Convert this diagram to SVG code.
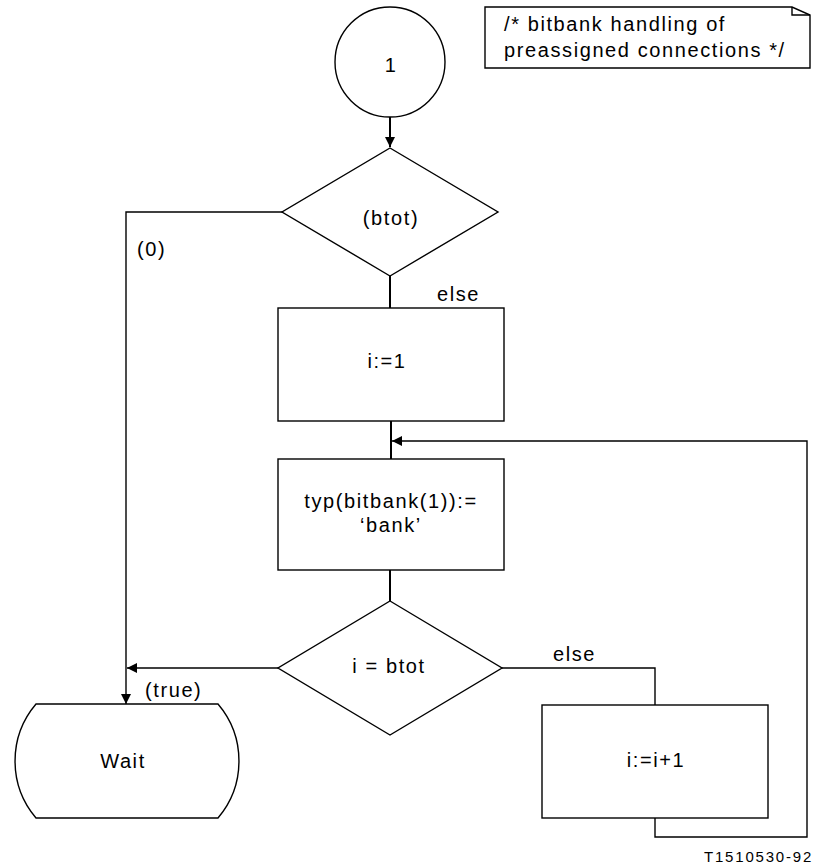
<svg xmlns="http://www.w3.org/2000/svg" width="819" height="867" viewBox="0 0 819 867">
<style>
.s{fill:#fff;stroke:#000;stroke-width:1.4}
.c{fill:none;stroke:#000;stroke-width:1.4}
.m{fill:none;stroke:#000;stroke-width:2}
.t{font-family:"Liberation Sans",Arial,sans-serif;font-size:20px;letter-spacing:1.6px;fill:#000}
.mid{text-anchor:middle}
</style>
<defs>
<marker id="ah" viewBox="0 0 10 10" refX="10" refY="5" markerWidth="10" markerHeight="10" markerUnits="userSpaceOnUse" orient="auto">
<path d="M0,0 L10,5 L0,10 Z" fill="#000"/>
</marker>
</defs>
<g id="connectors">
<line class="m" x1="390" y1="117" x2="390" y2="147" marker-end="url(#ah)"/>
<polyline class="c" points="282,212 126,212 126,704" marker-end="url(#ah)"/>
<line class="m" x1="390" y1="276" x2="390" y2="308"/>
<line class="m" x1="391" y1="421" x2="391" y2="459"/>
<line class="m" x1="390" y1="570" x2="390" y2="601"/>
<line class="c" x1="278" y1="668" x2="127" y2="668" marker-end="url(#ah)"/>
<polyline class="c" points="502,668 655,668 655,705"/>
<polyline class="c" points="655,818 655,837 807,837 807,441 392,441" marker-end="url(#ah)"/>
</g>
<g id="start">
<circle class="s" cx="390" cy="62" r="55"/>
<text class="t mid" x="391" y="72">1</text>
</g>
<g id="comment">
<path class="s" d="M485,7 L792,7 L810,15 L810,68 L485,68 Z"/>
<path class="c" d="M792,7 L792,15 L810,15"/>
<text class="t" x="504" y="31">/* bitbank handling of</text>
<text class="t" x="504" y="57">preassigned connections */</text>
</g>
<g id="decision1">
<polygon class="s" points="390,148 498,212 390,276 282,212"/>
<text class="t mid" x="391" y="225">(btot)</text>
</g>
<g id="task1">
<rect class="s" x="278" y="308" width="226" height="113"/>
<text class="t mid" x="387" y="368">i:=1</text>
</g>
<g id="task2">
<rect class="s" x="278" y="459" width="226" height="111"/>
<text class="t mid" x="391" y="508">typ(bitbank(1)):=</text>
<text class="t mid" x="391" y="532">‘bank’</text>
</g>
<g id="decision2">
<polygon class="s" points="390,601 502,668 390,735 278,668"/>
<text class="t mid" x="389" y="673">i = btot</text>
</g>
<g id="wait">
<path class="s" d="M36,704 L218,704 A88,88 0 0 1 218,818 L36,818 A88,88 0 0 1 36,704 Z"/>
<text class="t mid" x="123" y="768">Wait</text>
</g>
<g id="task3">
<rect class="s" x="542" y="705" width="226" height="113"/>
<text class="t mid" x="656" y="767">i:=i+1</text>
</g>
<g id="labels">
<text class="t" x="137" y="256">(0)</text>
<text class="t" x="437" y="301">else</text>
<text class="t" x="145" y="697">(true)</text>
<text class="t" x="553" y="661">else</text>
<text class="t" x="704" y="862" style="font-size:15px;letter-spacing:1.8px">T1510530-92</text>
</g>
</svg>
